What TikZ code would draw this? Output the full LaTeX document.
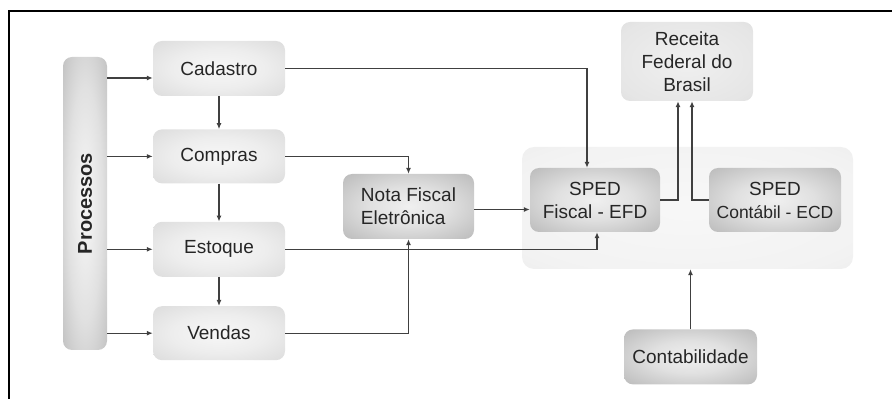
\documentclass[tikz,border=0pt]{standalone}
\usepackage{fontspec}
\setmainfont{Liberation Sans}
\usetikzlibrary{arrows.meta,positioning}

\pgfdeclareradialshading{lightshade}{\pgfpoint{0bp}{0bp}}{%
  color(0bp)=(black!3); color(18bp)=(black!7); color(50bp)=(black!19); color(72bp)=(black!25)}
\pgfdeclareradialshading{darkshade}{\pgfpoint{0bp}{0bp}}{%
  color(0bp)=(black!6); color(15bp)=(black!12); color(50bp)=(black!37); color(72bp)=(black!46)}
\pgfdeclareradialshading{rfbshade}{\pgfpoint{0bp}{0bp}}{%
  color(0bp)=(black!6); color(30bp)=(black!10); color(50bp)=(black!17); color(72bp)=(black!21)}
\pgfdeclareradialshading{groupshade}{\pgfpoint{0bp}{0bp}}{%
  color(0bp)=(black!3); color(30bp)=(black!5); color(50bp)=(black!10); color(72bp)=(black!12)}
\pgfdeclareradialshading{barshade}{\pgfpoint{0bp}{0bp}}{%
  color(0bp)=(black!3); color(20bp)=(black!12); color(50bp)=(black!35); color(72bp)=(black!42)}

\begin{document}
\begin{tikzpicture}[
    x=1pt, y=1pt,
    every node/.style={font=\fontsize{19}{23}\selectfont, text=black!85},
    basebox/.style={
      rectangle, rounded corners=9pt, align=center, shade,
      minimum width=132pt, minimum height=55pt
    },
    procbox/.style={basebox, shading=lightshade},
    docbox/.style={basebox, shading=darkshade},
    rfbbox/.style={basebox, shading=rfbshade},
    groupbox/.style={
      rectangle, rounded corners=12pt, shade, shading=groupshade,
      minimum width=331pt, minimum height=122pt
    },
    sidebar/.style={
      rectangle, rounded corners=9pt, shade, shading=barshade,
      minimum width=44pt, minimum height=293pt
    },
    flowarr/.style={-{Latex[length=6pt,width=5pt]}, line width=1.3pt, black!75}
  ]
    \useasboundingbox (0,0) rectangle (892,399);
    \draw[line width=2pt] (9,0) -- (9,388) -- (892,388);

    % Processos column
    \node[sidebar] (proc) at (85,195.5) {};
    \node[rotate=90, font=\fontsize{20}{24}\selectfont\bfseries] (proclbl) at (proc) {Processos};

    \node[procbox] (cad) at (219,330.5) {Cadastro};
    \node[procbox, below=33pt of cad, minimum height=54pt] (com) {Compras};
    \node[procbox, below=38pt of com] (est) {Estoque};
    \node[procbox, below=29pt of est, minimum height=54pt] (ven) {Vendas};

    % Nota fiscal
    \node[docbox, minimum width=131pt, minimum height=65pt, align=left] (nfe) at (408.5,192.5)
      {Nota Fiscal\\Eletrônica};

    % SPED group
    \node[groupbox] (sped) at (687.5,191) {};
    \node[docbox, minimum width=130pt, minimum height=64pt] (efd) at (595,199)
      {SPED\\Fiscal - EFD};
    \node[docbox, minimum height=64pt] (ecd) at (775,199)
      {SPED\\{\fontsize{17.5}{23}\selectfont Contábil - ECD}};

    \node[rfbbox, minimum height=79pt] (rfb) at (687,337.5) {Receita\\Federal do\\Brasil};
    \node[docbox, minimum width=133pt, below=60pt of sped.south, anchor=north, xshift=3pt] (ctb) {Contabilidade};

    % Processos to modules
    \draw[flowarr] ([yshift=-9.5pt]proc.east |- cad.west) -- ([yshift=-9.5pt]cad.west);
    \draw[flowarr] (proc.east |- com.west) -- (com.west);
    \draw[flowarr] (proc.east |- est.west) -- (est.west);
    \draw[flowarr] (proc.east |- ven.west) -- (ven.west);

    % Module chain
    \draw[flowarr] (cad.south) -- (cad.south |- com.north);
    \draw[flowarr] (com.south) -- (com.south |- est.north);
    \draw[flowarr] (est.south) -- (est.south |- ven.north);

    % To NF-e and SPED
    \draw[flowarr] (cad.east) -| ([xshift=-8pt]efd.north);
    \draw[flowarr] (com.east) -| (nfe.north);
    \draw[flowarr] (ven.east) -| (nfe.south);
    \draw[flowarr] (est.east) -| ([xshift=2pt]efd.south);
    \draw[flowarr] ([yshift=-3pt]nfe.east) -- ([yshift=-3pt]nfe.east -| efd.west);

    % SPED to Receita
    \draw[flowarr] (efd.east) -| ([xshift=-9pt]rfb.south);
    \draw[flowarr] (ecd.west) -| ([xshift=5pt]rfb.south);
    \draw[flowarr] (ctb.north) -- (ctb.north |- sped.south);
  \end{tikzpicture}
\end{document}
